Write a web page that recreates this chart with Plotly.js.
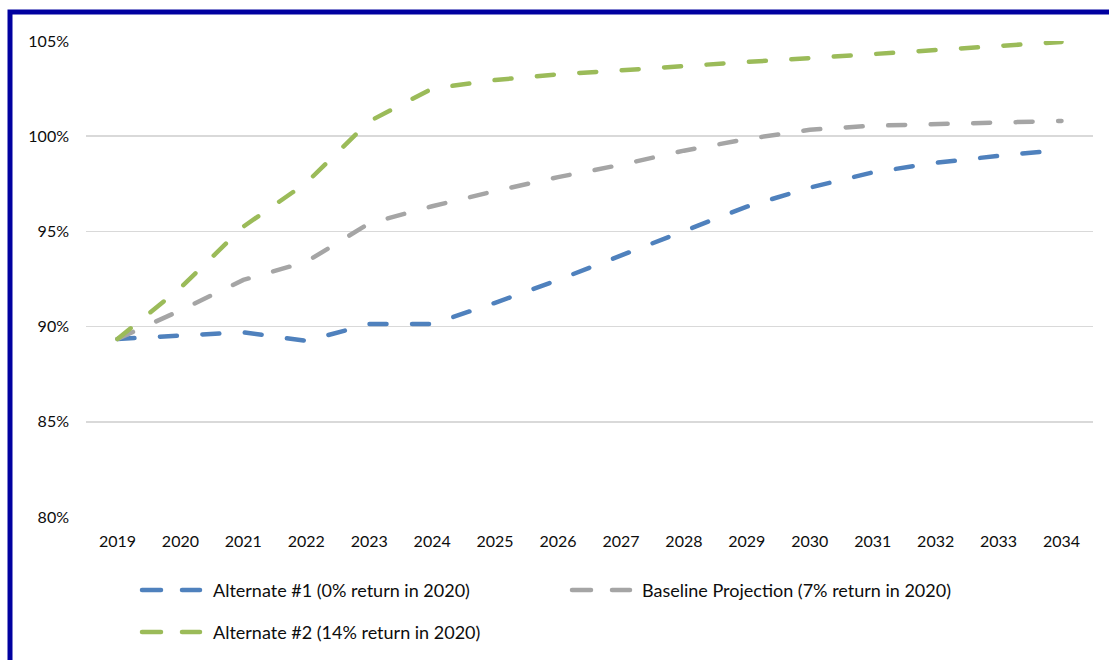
<!DOCTYPE html>
<html>
<head>
<meta charset="utf-8">
<script src="https://cdn.plot.ly/plotly-3.0.1.min.js"></script>
<style>
  html, body { margin: 0; padding: 0; background: #fff; }
  #chart { width: 1109px; height: 660px; }
  .js-line { stroke-linecap: round !important; }
</style>
</head>
<body>
<div id="chart"></div>
<script>
const years = ["2019","2020","2021","2022","2023","2024","2025","2026","2027","2028","2029","2030","2031","2032","2033","2034"];
const alternate1 = [89.35, 89.5, 89.7, 89.25, 90.13, 90.13, 91.25, 92.45, 93.75, 95.0, 96.3, 97.3, 98.1, 98.6, 98.97, 99.28];
const baseline   = [89.35, 90.85, 92.45, 93.4, 95.42, 96.32, 97.12, 97.85, 98.5, 99.24, 99.85, 100.34, 100.55, 100.65, 100.73, 100.8];
const alternate2 = [89.35, 92.03, 95.25, 97.55, 100.78, 102.5, 102.95, 103.25, 103.46, 103.7, 103.9, 104.1, 104.3, 104.5, 104.75, 104.95];
const seriesNames = ["Alternate #1 (0% return in 2020)", "Baseline Projection (7% return in 2020)", "Alternate #2 (14% return in 2020)"];
const yTickVals = [80, 85, 90, 95, 100, 105];
const yTickText = ["80%", "85%", "90%", "95%", "100%", "105%"];

const colors = ["#4F81BD", "#A5A5A5", "#9BBB59"];
const seriesData = [alternate1, baseline, alternate2];

const W = 1109, H = 660;
const L = 86, R = 1093, T = 41, B = 517;
const px2x = p => (p - L) / (R - L);
const px2y = p => (B - p) / (B - T);

const traces = seriesData.map((d, i) => ({
  x: years, y: d, type: "scatter", mode: "lines", name: seriesNames[i],
  line: { color: colors[i], width: 4.5, dash: "17px,25.5px" },
  hoverinfo: "x+y+name", showlegend: false
}));

const FONT = "Lato, 'Open Sans', sans-serif";
const TXT = "#0d0d0d";

// custom legend: [colorIndex, symbolStartPx, textStartPx, rowYpx]
const legendItems = [
  [0, 140, 213, 590],
  [1, 570, 642, 590],
  [2, 140, 213, 632]
];

const shapes = [{
  type: "rect", xref: "paper", yref: "paper",
  x0: px2x(10), y0: px2y(12), x1: px2x(W + 40), y1: px2y(H + 40),
  line: { color: "#0000A0", width: 5 }, fillcolor: "rgba(0,0,0,0)", layer: "above"
}];
const annotations = [];
legendItems.forEach(([ci, sx, tx, ry]) => {
  [[sx + 2, sx + 21], [sx + 42, sx + 60]].forEach(([a, b]) => {
    shapes.push({
      type: "line", xref: "paper", yref: "paper",
      x0: px2x(a), x1: px2x(b), y0: px2y(ry), y1: px2y(ry),
      line: { color: colors[ci], width: 4.5 }
    });
  });
  annotations.push({
    xref: "paper", yref: "paper", x: px2x(tx - 2), y: px2y(ry),
    xanchor: "left", yanchor: "middle", showarrow: false,
    text: seriesNames[ci], font: { family: FONT, size: 18, color: TXT }
  });
});

const layout = {
  width: W, height: H,
  margin: { l: L, r: W - R, t: T, b: H - B, pad: 0 },
  paper_bgcolor: "#fff", plot_bgcolor: "#fff",
  showlegend: false,
  font: { family: FONT, size: 16, color: TXT },
  xaxis: {
    type: "category", range: [-0.5, 15.5], showgrid: false, zeroline: false,
    showline: false, ticks: "", ticklabelstandoff: 13,
    tickfont: { family: FONT, size: 16, color: TXT }, fixedrange: true
  },
  yaxis: {
    range: [80, 105], tickvals: yTickVals, ticktext: yTickText,
    showgrid: true, gridcolor: "#D9D9D9", gridwidth: 1.5, zeroline: false,
    showline: false, ticks: "", ticklabelstandoff: 16,
    tickfont: { family: FONT, size: 16, color: TXT }, fixedrange: true
  },
  shapes: shapes,
  annotations: annotations
};

Plotly.newPlot("chart", traces, layout, { displayModeBar: false, staticPlot: true }).then(() => {
  document.querySelectorAll(".shapelayer path").forEach(p => p.style.strokeLinecap = "round");
});
</script>
</body>
</html>
